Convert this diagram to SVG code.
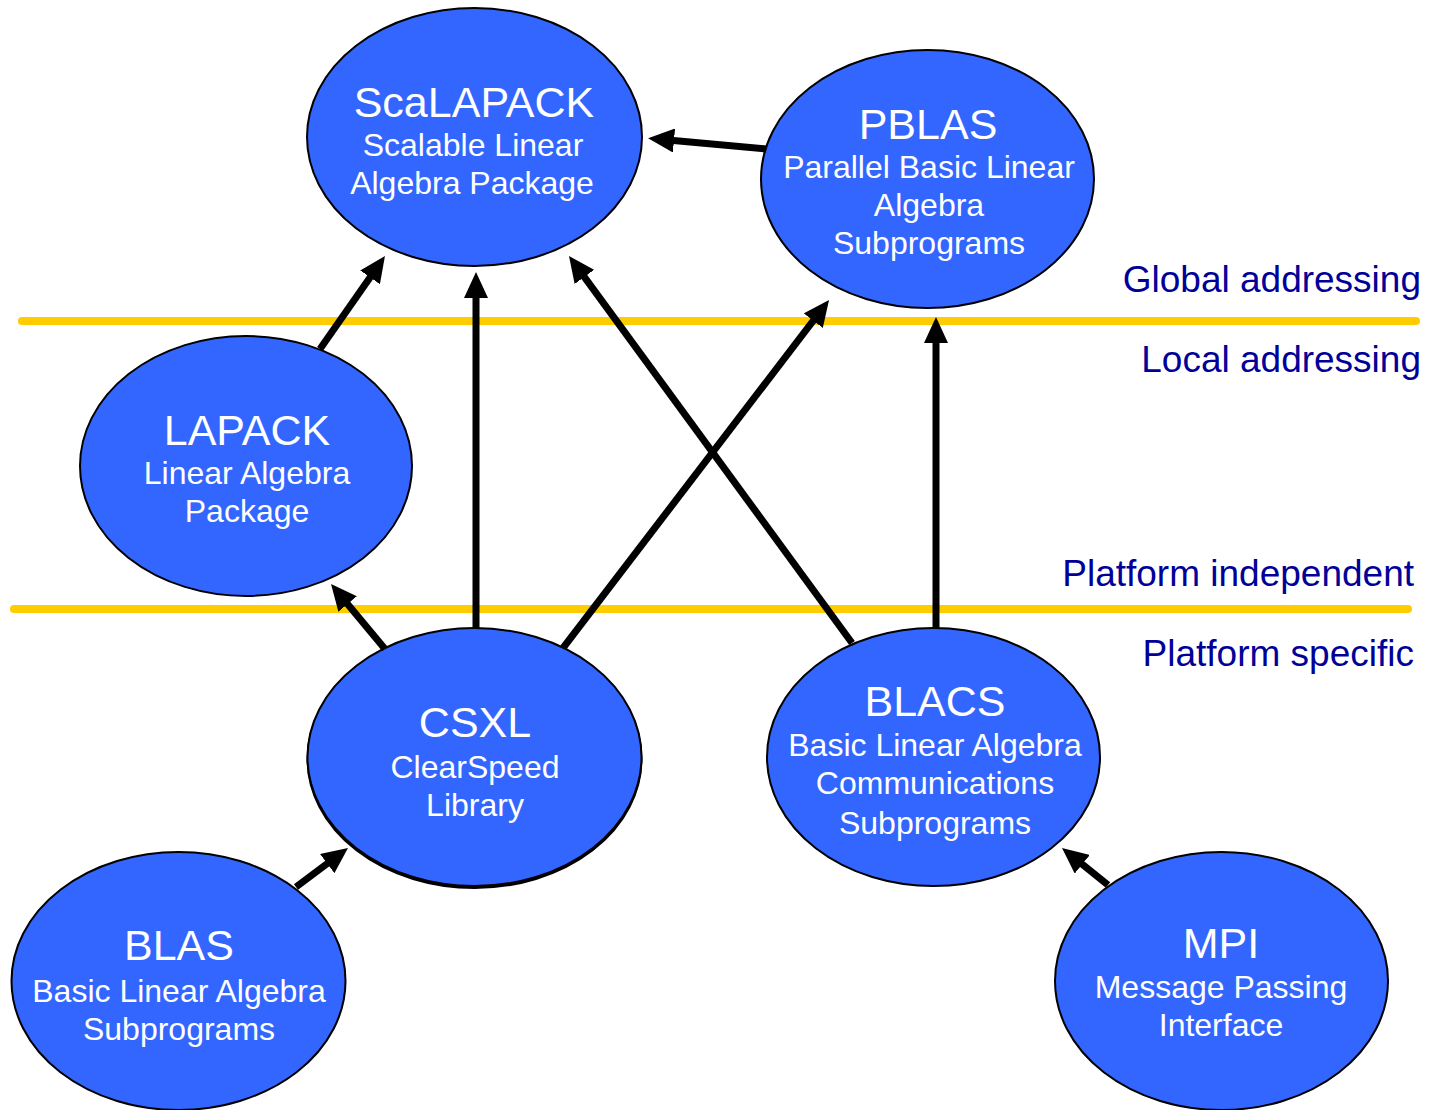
<svg xmlns="http://www.w3.org/2000/svg" width="1430" height="1110" viewBox="0 0 1430 1110">
<style>
.node ellipse{fill:#3366FF;stroke:#000;stroke-width:2}
.t{font-family:"Liberation Sans",Arial,sans-serif;fill:#fff;text-anchor:middle}
.h{font-size:43px}
.s{font-size:32px}
.lbl{font-family:"Liberation Sans",Arial,sans-serif;font-size:37px;fill:#000099;text-anchor:end}
.yl{stroke:#FFCC00;stroke-width:8;stroke-linecap:round}
.c line{stroke:#000;stroke-width:7;marker-end:url(#ah)}
</style>
<defs>
<marker id="ah" markerUnits="userSpaceOnUse" markerWidth="26" markerHeight="24" refX="6" refY="12" orient="auto" viewBox="0 0 26 24">
<path d="M0,0 L26,12 L0,24 z" fill="#000"/>
</marker>
</defs>
<rect width="1430" height="1110" fill="#fff"/>
<g id="bands">
<line class="yl" x1="22" y1="321" x2="1416" y2="321"/>
<line class="yl" x1="14" y1="609" x2="1408" y2="609"/>
<text class="lbl" x="1421" y="292">Global addressing</text>
<text class="lbl" x="1421" y="372">Local addressing</text>
<text class="lbl" x="1414" y="586">Platform independent</text>
<text class="lbl" x="1414" y="666">Platform specific</text>
</g>
<g id="scalapack" class="node">
<ellipse cx="474.5" cy="137" rx="167.5" ry="129"/>
<text class="t h" x="474" y="117">ScaLAPACK</text>
<text class="t s" x="473" y="156">Scalable Linear</text>
<text class="t s" x="472" y="194">Algebra Package</text>
</g>
<g id="pblas" class="node">
<ellipse cx="927.5" cy="179" rx="166.5" ry="129"/>
<text class="t h" x="928" y="139">PBLAS</text>
<text class="t s" x="929" y="178">Parallel Basic Linear</text>
<text class="t s" x="929" y="216">Algebra</text>
<text class="t s" x="929" y="254">Subprograms</text>
</g>
<g id="lapack" class="node">
<ellipse cx="246" cy="466" rx="166" ry="130"/>
<text class="t h" x="247" y="445">LAPACK</text>
<text class="t s" x="247" y="484">Linear Algebra</text>
<text class="t s" x="247" y="522">Package</text>
</g>
<g id="csxl" class="node">
<ellipse cx="474.5" cy="759" rx="167" ry="129" style="fill:#000"/>
<ellipse cx="474.5" cy="757" rx="167" ry="129"/>
<text class="t h" x="475" y="737">CSXL</text>
<text class="t s" x="475" y="778">ClearSpeed</text>
<text class="t s" x="475" y="816">Library</text>
</g>
<g id="blacs" class="node">
<ellipse cx="933.5" cy="757" rx="166.5" ry="129"/>
<text class="t h" x="935" y="716">BLACS</text>
<text class="t s" x="935" y="756">Basic Linear Algebra</text>
<text class="t s" x="935" y="794">Communications</text>
<text class="t s" x="935" y="834">Subprograms</text>
</g>
<g id="blas" class="node">
<ellipse cx="178.5" cy="981" rx="167" ry="129"/>
<text class="t h" x="179" y="960">BLAS</text>
<text class="t s" x="179" y="1002">Basic Linear Algebra</text>
<text class="t s" x="179" y="1040">Subprograms</text>
</g>
<g id="mpi" class="node">
<ellipse cx="1221.5" cy="981" rx="166.5" ry="129"/>
<text class="t h" x="1221" y="958">MPI</text>
<text class="t s" x="1221" y="998">Message Passing</text>
<text class="t s" x="1221" y="1036">Interface</text>
</g>
<g id="connectors" class="c">
<line x1="766" y1="149" x2="668" y2="140"/>
<line x1="320" y1="349" x2="373.5" y2="272.4"/>
<line x1="476" y1="628" x2="476" y2="292"/>
<line x1="852" y1="643" x2="580.8" y2="272.1"/>
<line x1="563" y1="648" x2="816.9" y2="315.9"/>
<line x1="936" y1="628" x2="936" y2="337"/>
<line x1="385" y1="649" x2="343.8" y2="599.4"/>
<line x1="296" y1="887" x2="332" y2="860"/>
<line x1="1108" y1="885" x2="1077.6" y2="860.5"/>
</g>
</svg>
